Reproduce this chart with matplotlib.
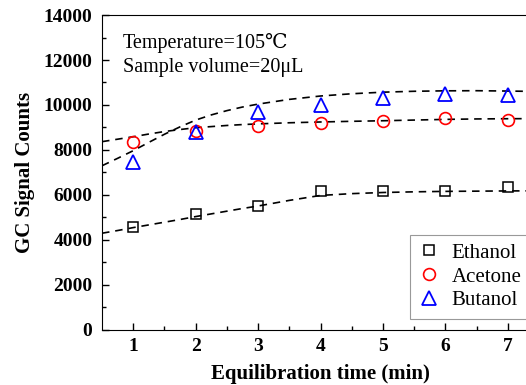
import numpy as np
import matplotlib.pyplot as plt

# measured points
time = [1, 2, 3, 4, 5, 6, 7]
ethanol = [4590, 5150, 5530, 6190, 6180, 6180, 6340]
acetone = [8340, 8840, 9080, 9200, 9290, 9400, 9330]
butanol = [7460, 8810, 9670, 10000, 10330, 10480, 10440]

# dashed fit curves
fit_t = [0.5, 0.75, 1, 1.25, 1.5, 1.75, 2, 2.25, 2.5, 2.75, 3, 3.5, 4, 4.5, 5, 5.5, 6, 6.5, 7, 7.5]
fit_ethanol = [4300, 4420, 4550, 4670, 4790, 4910, 5040, 5160, 5280, 5400, 5510, 5760, 5980, 6060, 6110, 6140, 6160, 6170, 6180, 6185]
fit_acetone = [8370, 8480, 8590, 8710, 8820, 8910, 8990, 9040, 9090, 9130, 9160, 9210, 9245, 9275, 9300, 9330, 9360, 9380, 9390, 9395]
fit_butanol = [7300, 7630, 7970, 8340, 8700, 9030, 9330, 9560, 9750, 9910, 10040, 10250, 10400, 10500, 10570, 10610, 10630, 10635, 10620, 10600]

plt.rcParams['font.family'] = ['Liberation Serif', 'DejaVu Serif', 'DejaVu Sans']

fig = plt.figure(figsize=(5.26, 3.85), dpi=100)
ax = fig.add_axes([0.194, 0.143, 0.831, 0.818])

for fit in (fit_ethanol, fit_acetone, fit_butanol):
    ax.plot(fit_t, fit, ls=(0, (4.5, 3.5)), color='black', lw=1.2)

ax.plot(time, ethanol, 's', mfc='none', mec='black', ms=6.5, mew=1.1, label='Ethanol')
ax.plot(time, acetone, 'o', mfc='none', mec='red', ms=8.5, mew=1.2, label='Acetone')
ax.plot(time, butanol, '^', mfc='none', mec='blue', ms=10, mew=1.3, label='Butanol')

ax.set_xlim(0.5, 7.5)
ax.set_ylim(0, 14000)
ax.set_xticks(range(1, 8))
ax.set_xticks(np.arange(1.5, 7.5, 1), minor=True)
ax.set_yticks(range(0, 14001, 2000))
ax.set_yticks(range(1000, 14000, 2000), minor=True)
ax.tick_params(which='major', direction='in', length=5, width=1, labelsize=14)
ax.tick_params(axis='y', which='major', pad=7)
ax.tick_params(axis='x', which='major', pad=6)
ax.tick_params(which='minor', direction='in', length=3, width=1)
for lab in ax.get_xticklabels() + ax.get_yticklabels():
    lab.set_fontweight('bold')

ax.set_xlabel('Equilibration time (min)', fontsize=15, fontweight='bold', labelpad=6)
ax.set_ylabel('GC Signal Counts', fontsize=15, fontweight='bold', labelpad=6)

ax.text(0.048, 0.911, 'Temperature=105\u2103', transform=ax.transAxes, fontsize=14.5, va='center')
ax.text(0.048, 0.832, 'Sample volume=20\u03bcL', transform=ax.transAxes, fontsize=14.5, va='center')

leg = ax.legend(loc='upper left', bbox_to_anchor=(0.705, 0.302), fontsize=15,
                fancybox=False, edgecolor='gray', borderpad=0.4, handletextpad=0.6,
                labelspacing=0.2, handlelength=1.0, borderaxespad=0)
leg.get_frame().set_linewidth(0.8)

fig.savefig('out.png', dpi=100)
